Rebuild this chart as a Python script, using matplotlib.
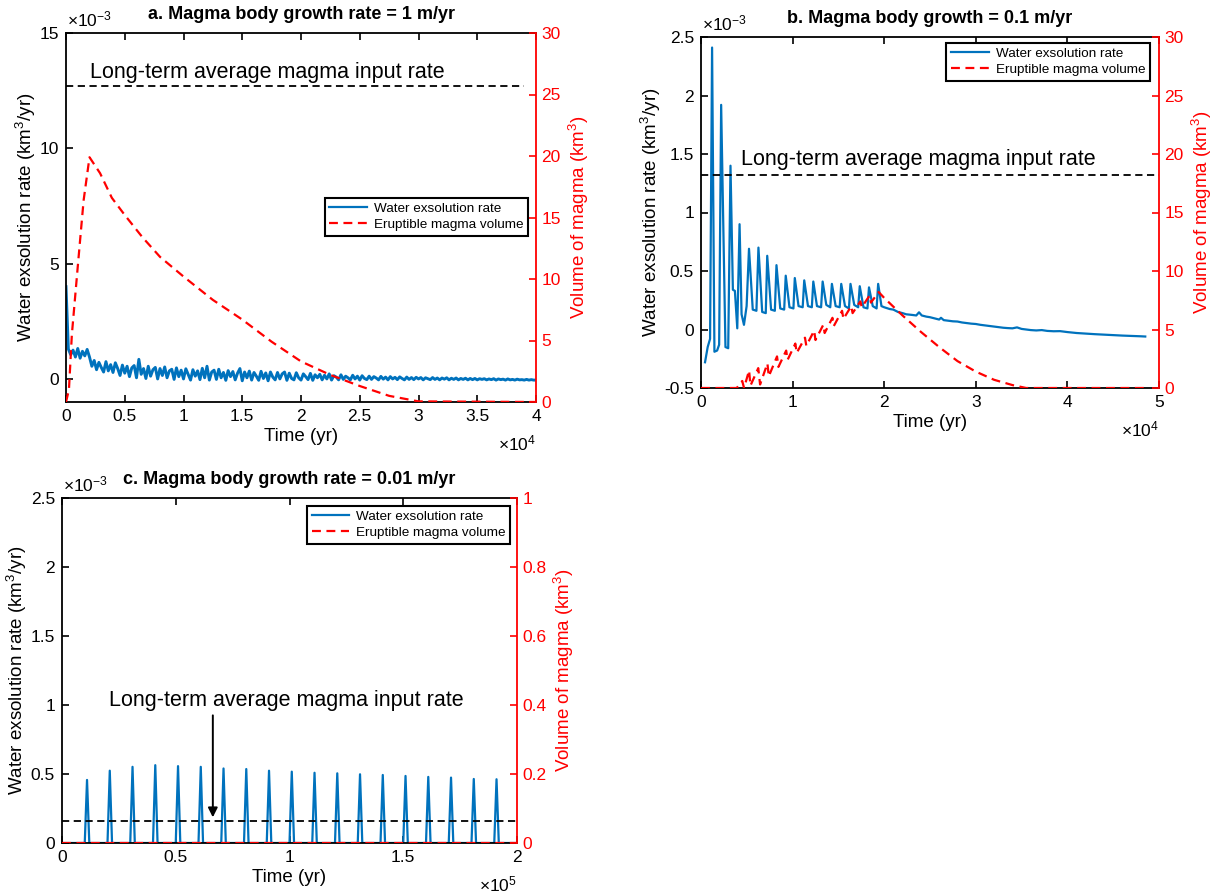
import matplotlib
matplotlib.use("Agg")
import matplotlib.pyplot as plt
import numpy as np
from matplotlib.ticker import FuncFormatter

plt.rcParams["font.family"] = ["Liberation Sans", "DejaVu Sans"]
plt.rcParams["mathtext.default"] = "regular"

BLUE = "#0072BD"
RED = "#FF0000"

# ---------------- panel a: growth rate 1 m/yr ----------------
a_time = np.arange(0, 40001, 200)
a_water = [
    4.0, 1.30, 1.05, 1.25, 0.95, 1.32, 0.90, 1.20, 1.00, 1.28,
    0.95, 0.55, 0.80, 0.40, 0.72, 0.50, 0.30, 0.75, 0.35, 0.62,
    0.28, 0.70, 0.45, 0.15, 0.60, 0.25, 0.55, 0.10, 0.48, 0.58,
    0.05, 0.85, 0.20, 0.45, 0.02, 0.55, 0.12, 0.40, 0.50, 0.00,
    0.45, 0.15, 0.52, 0.05, 0.35, 0.42, -0.02, 0.48, 0.10, 0.38,
    0.00, 0.44, 0.20, -0.05, 0.40, 0.12, 0.35, -0.03, 0.46, 0.05,
    0.55, -0.05, 0.30, 0.38, -0.02, 0.42, 0.05, 0.28, -0.06, 0.36,
    0.10, 0.32, -0.04, 0.25, 0.45, -0.08, 0.30, 0.05, 0.34, -0.05,
    0.28, 0.12, -0.06, 0.33, 0.02, 0.26, -0.08, 0.30, 0.08, -0.04,
    0.28, 0.00, 0.22, 0.30, -0.06, 0.25, 0.02, -0.04, 0.27, 0.05,
    -0.05, 0.22, 0.10, -0.03, 0.24, -0.06, 0.18, 0.05, 0.20, -0.04,
    0.16, 0.00, 0.22, -0.05, 0.14, 0.08, -0.04, 0.18, -0.02, 0.12,
    0.05, -0.04, 0.16, 0.00, 0.12, -0.05, 0.14, 0.02, -0.03, 0.12,
    -0.02, 0.10, 0.04, -0.04, 0.11, -0.01, 0.08, -0.04, 0.10, 0.00,
    0.07, -0.03, 0.09, 0.02, -0.04, 0.08, -0.02, 0.06, -0.03, 0.07,
    0.00, 0.06, -0.04, 0.05, 0.01, -0.03, 0.06, -0.02, 0.04, -0.04,
    0.04, -0.01, 0.05, -0.04, 0.03, -0.02, 0.04, -0.04, 0.02, -0.02,
    0.03, -0.04, 0.02, -0.03, 0.02, -0.04, 0.01, -0.02, 0.01, -0.04,
    0.00, -0.03, 0.01, -0.05, 0.00, -0.03, -0.01, -0.05, 0.00, -0.04,
    -0.02, -0.05, -0.01, -0.04, -0.03, -0.05, -0.02, -0.05, -0.03, -0.05,
    -0.05,
]
a_vol_time = [0, 250, 500, 1000, 1500, 2000, 2900, 3900, 5000, 6500, 8000, 10000,
              12500, 15000, 17500, 20000, 22500, 25000, 27500, 30000, 40000]
a_vol = [0, 1.0, 5.5, 11.0, 16.4, 19.9, 18.6, 16.6, 15.2, 13.4, 11.8, 10.2,
         8.3, 6.7, 4.9, 3.3, 2.2, 1.3, 0.5, 0.05, 0]
a_input_rate = 12.7
a_input_span = [0, 39000]

# ---------------- panel b: growth rate 0.1 m/yr ----------------
b_time = [
    440, 730, 990, 1210, 1465, 1760, 1980, 2200, 2670, 2970,
    3220, 3480, 3700, 3960, 4210, 4430, 4690, 4980, 5240, 5650,
    6050, 6270, 6680, 7070, 7230, 7650, 8060, 8240, 8650, 9080,
    9250, 9660, 10090, 10240, 10650, 11100, 11270, 11680, 12100, 12260,
    12660, 13110, 13280, 13680, 14110, 14290, 14700, 15140, 15310, 15720,
    16150, 16320, 16730, 17160, 17330, 17740, 18170, 18340, 18750, 19170,
    19340, 19700, 20000, 20600, 21000, 21500, 22000, 22400, 23000, 23500,
    23800, 24100, 24600, 25000, 25500, 26000, 26200, 26500, 27000, 27500,
    28000, 28500, 29000, 29500, 30000, 30500, 31000, 31500, 32000, 32500,
    33000, 33500, 34000, 34500, 35000, 35500, 36000, 36600, 37200, 37800,
    38500, 39200, 40000, 41000, 42000, 43000, 44000, 45000, 46000, 47000,
    48000, 48500,
]
b_water = [
    -0.28, -0.15, -0.08, 2.41, -0.19, -0.18, -0.13, 1.92, -0.15, -0.16,
    1.40, 0.34, 0.33, 0.01, 0.90, 0.13, 0.04, 0.20, 0.69, 0.17,
    0.16, 0.70, 0.15, 0.14, 0.63, 0.17, 0.16, 0.55, 0.18, 0.17,
    0.46, 0.19, 0.18, 0.44, 0.20, 0.19, 0.42, 0.20, 0.19, 0.41,
    0.20, 0.19, 0.41, 0.21, 0.19, 0.39, 0.20, 0.19, 0.39, 0.20,
    0.18, 0.39, 0.21, 0.19, 0.37, 0.19, 0.18, 0.36, 0.20, 0.18,
    0.39, 0.20, 0.19, 0.175, 0.17, 0.15, 0.14, 0.13, 0.125, 0.12,
    0.147, 0.12, 0.11, 0.105, 0.095, 0.085, 0.10, 0.08, 0.075, 0.07,
    0.068, 0.06, 0.055, 0.05, 0.047, 0.04, 0.035, 0.03, 0.025, 0.02,
    0.015, 0.012, 0.01, 0.018, 0.005, 0.0, -0.005, -0.008, -0.005, -0.012,
    -0.015, -0.014, -0.022, -0.03, -0.035, -0.04, -0.044, -0.048, -0.052, -0.055,
    -0.058, -0.06,
]
b_vol_time = [0, 3900, 4500, 4700, 5250, 5400, 6250, 6450, 7250, 7400, 8300, 8450,
              9300, 9450, 10300, 10450, 11350, 11500, 12350, 12500, 13350, 13500,
              14350, 14500, 15400, 15550, 16400, 16550, 17400, 17550, 18400, 18550,
              19400, 20000, 22000, 24000, 26000, 28000, 30000, 32000, 34000, 35500,
              48500]
b_vol = [0, 0, 0.6, 0.0, 1.5, 0.2, 1.7, 0.3, 2.1, 1.0, 2.7, 1.8,
         3.2, 2.4, 3.8, 3.0, 4.3, 3.6, 4.9, 4.1, 5.4, 4.7,
         6.0, 5.3, 6.6, 5.9, 7.0, 6.4, 7.4, 6.9, 7.9, 7.3,
         8.2, 7.7, 6.2, 4.8, 3.5, 2.3, 1.4, 0.7, 0.25, 0,
         0]
b_input_rate = 1.32
b_input_span = [0, 50000]

# ---------------- panel c: growth rate 0.01 m/yr ----------------
c_spike_time = [11000, 21000, 31000, 41000, 51000, 61000, 71000, 81000, 91000, 101000,
                111000, 121000, 131000, 141000, 151000, 161000, 171000, 181000, 191000]
c_spike_height = [0.457, 0.524, 0.552, 0.564, 0.557, 0.552, 0.540, 0.536, 0.524, 0.517,
                  0.509, 0.505, 0.498, 0.493, 0.486, 0.479, 0.474, 0.464, 0.462]
c_spike_halfwidth = 1000
c_end = 200000
c_vol_time = [0, 200000]
c_vol = [0, 0]
c_input_rate = 0.157
c_input_span = [0, 200000]

# triangular spikes on a zero baseline
c_time = [0]
c_water = [0]
for t, h in zip(c_spike_time, c_spike_height):
    c_time += [t - c_spike_halfwidth, t, t + c_spike_halfwidth]
    c_water += [0, h, 0]
c_time.append(c_end)
c_water.append(0)

TICK_FS = 12.5
LABEL_FS = 13.5

fig = plt.figure(figsize=(12.17, 8.94), dpi=100)


def style_panel(ax, ax2, xticks, xscale, yticks, ylim, rticks, rlim, title, xpow):
    ax.set_xlim(xticks[0], xticks[-1])
    ax.set_xticks(xticks)
    ax.set_ylim(*ylim)
    ax.set_yticks(yticks)
    ax2.set_ylim(*rlim)
    ax2.set_yticks(rticks)
    ax.xaxis.set_major_formatter(FuncFormatter(lambda v, p: f"{round(v / xscale, 3):g}"))
    ax.yaxis.set_major_formatter(FuncFormatter(lambda v, p: f"{round(v / 1e-3, 3):g}"))
    ax2.yaxis.set_major_formatter(FuncFormatter(lambda v, p: f"{round(v, 2):g}"))
    ax.tick_params(direction="in", top=True, right=False, length=5, width=1.2,
                   labelsize=TICK_FS, pad=5)
    ax2.tick_params(axis="y", direction="in", colors=RED, length=5, width=1.2,
                    labelsize=TICK_FS, pad=4)
    for s in ["left", "bottom", "top"]:
        ax.spines[s].set_linewidth(1.3)
    ax.spines["right"].set_visible(False)
    for s in ["left", "bottom", "top"]:
        ax2.spines[s].set_visible(False)
    ax2.spines["right"].set_color(RED)
    ax2.spines["right"].set_linewidth(1.3)
    ax.set_xlabel("Time (yr)", fontsize=LABEL_FS, labelpad=3)
    ax.set_ylabel("Water exsolution rate (km$^3$/yr)", fontsize=LABEL_FS, labelpad=1)
    ax2.set_ylabel("Volume of magma (km$^3$)", fontsize=LABEL_FS, color=RED, labelpad=4)
    ax.set_title(title, fontsize=13, fontweight="bold", pad=10)
    ax.annotate(r"$\times$10$^{-3}$", xy=(0, 1), xycoords="axes fraction",
                xytext=(1, 10), textcoords="offset points", ha="left", va="center",
                fontsize=TICK_FS)
    ax.annotate(r"$\times$10$^{%d}$" % xpow, xy=(1, 0), xycoords="axes fraction",
                xytext=(0, -30), textcoords="offset points", ha="right", va="center",
                fontsize=TICK_FS)


def add_legend(ax2, handles, anchor):
    leg = ax2.legend(handles=handles, loc="upper right", bbox_to_anchor=anchor,
                     frameon=True, fancybox=False, edgecolor="black", framealpha=1,
                     fontsize=9.7, handlelength=2.8, borderpad=0.35,
                     labelspacing=0.25, handletextpad=0.5, borderaxespad=0)
    leg.get_frame().set_linewidth(1.5)
    for line in leg.get_lines():
        line.set_linewidth(1.6)


# panel a
ax = fig.add_axes([66 / 1217, 1 - 402 / 894, 470 / 1217, 369 / 894])
ax2 = ax.twinx()
la, = ax.plot(a_time, np.array(a_water) * 1e-3, color=BLUE, lw=2.1,
              label="Water exsolution rate")
ax.plot(a_input_span, [a_input_rate * 1e-3] * 2, color="black", lw=1.3,
        dashes=(4, 2.5))
ax.text(2000, 13.3e-3, "Long-term average magma input rate", fontsize=15.5,
        ha="left", va="center")
ra, = ax2.plot(a_vol_time, a_vol, color=RED, lw=1.6, dashes=(4, 2.5),
               label="Eruptible magma volume")
style_panel(ax, ax2, np.arange(0, 40001, 5000), 1e4, [0, 5e-3, 10e-3, 15e-3],
            (-1e-3, 15e-3), np.arange(0, 31, 5), (0, 30),
            "a. Magma body growth rate = 1 m/yr", 4)
add_legend(ax2, [la, ra], (0.983, 0.553))

# panel b
ax = fig.add_axes([701 / 1217, 1 - 388 / 894, 458 / 1217, 351 / 894])
ax2 = ax.twinx()
lb, = ax.plot(b_time, np.array(b_water) * 1e-3, color=BLUE, lw=1.6,
              label="Water exsolution rate")
ax.plot(b_input_span, [b_input_rate * 1e-3] * 2, color="black", lw=1.3,
        dashes=(4, 2.5))
ax.text(4400, 1.45e-3, "Long-term average magma input rate", fontsize=15.5,
        ha="left", va="center")
rb, = ax2.plot(b_vol_time, b_vol, color=RED, lw=1.6, dashes=(4, 2.5),
               label="Eruptible magma volume")
style_panel(ax, ax2, np.arange(0, 50001, 10000), 1e4,
            np.arange(-0.5e-3, 2.6e-3, 0.5e-3), (-0.5e-3, 2.5e-3),
            np.arange(0, 31, 5), (0, 30), "b. Magma body growth = 0.1 m/yr", 4)
add_legend(ax2, [lb, rb], (0.98, 0.983))

# panel c
ax = fig.add_axes([62 / 1217, 1 - 843 / 894, 455 / 1217, 345 / 894])
ax2 = ax.twinx()
lc, = ax.plot(c_time, np.array(c_water) * 1e-3, color=BLUE, lw=1.6,
              label="Water exsolution rate")
ax.plot(c_input_span, [c_input_rate * 1e-3] * 2, color="black", lw=1.3,
        dashes=(4, 2.5))
ax.text(98700, 1.03e-3, "Long-term average magma input rate", fontsize=15.5,
        ha="center", va="center")
ax.annotate("", xy=(66300, 0.186e-3), xytext=(66300, 0.925e-3),
            arrowprops=dict(arrowstyle="-|>", color="black", lw=1.4,
                            mutation_scale=14, shrinkA=0, shrinkB=0))
rc, = ax2.plot(c_vol_time, c_vol, color=RED, lw=1.6, dashes=(4, 2.5),
               label="Eruptible magma volume")
style_panel(ax, ax2, np.arange(0, 200001, 50000), 1e5,
            np.arange(0, 2.6e-3, 0.5e-3), (0, 2.5e-3),
            np.arange(0, 1.01, 0.2), (0, 1), "c. Magma body growth rate = 0.01 m/yr", 5)
add_legend(ax2, [lc, rc], (0.985, 0.977))

fig.savefig("out.png", dpi=100)
